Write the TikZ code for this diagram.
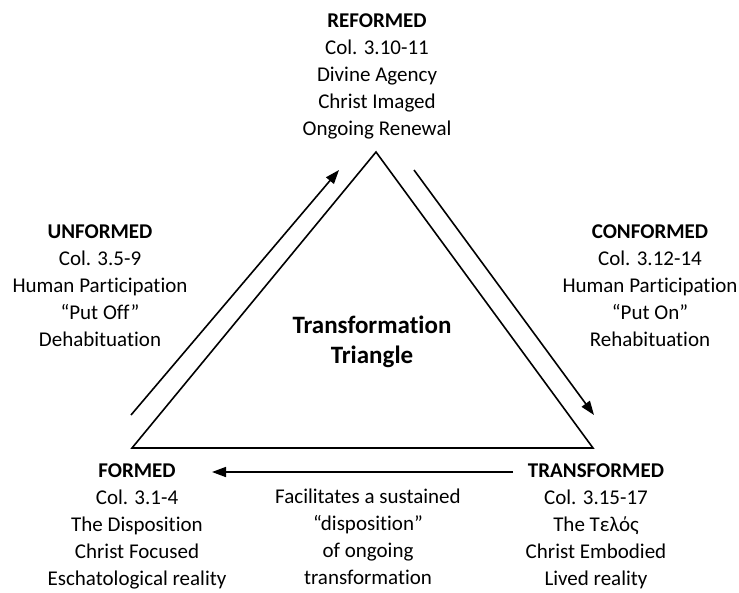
\documentclass[tikz,border=0pt]{standalone}
\usepackage{fontspec}
\setmainfont{Carlito}[Ligatures={TeX,NoCommon}]
\usepackage{tikz}
\usetikzlibrary{arrows.meta}
\tikzstyle{Label}=[align=center,inner sep=0pt,font=\fontsize{21}{27}\selectfont]
\tikzstyle{Title}=[align=center,inner sep=0pt,font=\fontsize{25}{30}\selectfont\bfseries]
\tikzstyle{Side}=[draw=black,line width=1.6pt,line join=miter]
\tikzstyle{Flow}=[draw=black,line width=1.6pt,-{Triangle[length=14pt,width=10pt]}]

\begin{document}
\begin{tikzpicture}[x=1pt,y=-1pt]
        \useasboundingbox (0,0) rectangle (739,592);
        \coordinate(l)at(132,448);
        \coordinate(t)at(376,152);
        \coordinate(r)at(593,448);
        \coordinate(ua)at(131,415);
        \coordinate(ub)at(339,170);
        \coordinate(ca)at(414,170);
        \coordinate(cb)at(594,415);
        \coordinate(fa)at(513,472);
        \coordinate(fb)at(212,472);
        \node[Label](re)at(377,76){\textbf{REFORMED}\\Col. 3.10-11\\Divine Agency\\Christ Imaged\\Ongoing Renewal};
        \node[Label](un)at(100,286){\textbf{UNFORMED}\\Col. 3.5-9\\Human Participation\\“Put Off”\\Dehabituation};
        \node[Label](co)at(650,286){\textbf{CONFORMED}\\Col. 3.12-14\\Human Participation\\“Put On”\\Rehabituation};
        \node[Label](fo)at(137,526){\textbf{FORMED}\\Col. 3.1-4\\The Disposition\\Christ Focused\\Eschatological reality};
        \node[Label](tr)at(596,526){\textbf{TRANSFORMED}\\Col. 3.15-17\\The Τελός\\Christ Embodied\\Lived reality};
        \node[Label](mid)at(368,537){Facilitates a sustained\\“disposition”\\of ongoing\\transformation};
        \node[Title](ti)at(372,342){Transformation\\Triangle};
        \draw[Side](l)--(t)--(r)--cycle;
        \draw[Flow](ua)--(ub);
        \draw[Flow](ca)--(cb);
        \draw[Flow](fa)--(fb);
    \end{tikzpicture}
\end{document}
